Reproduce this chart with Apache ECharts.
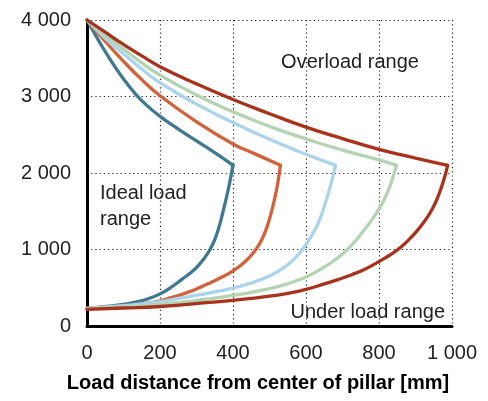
<!DOCTYPE html>
<html><head><meta charset="utf-8">
<script src="https://cdn.jsdelivr.net/npm/echarts@6/dist/echarts.min.js"></script>
<style>html,body{margin:0;padding:0;background:#fff}#c{width:488px;height:401px}</style>
</head><body><div id="c"></div>
<script>
// Tick labels
const xTickLabels = ['0', '200', '400', '600', '800', '1 000'];
const yTickLabels = ['0', '1 000', '2 000', '3 000', '4 000'];

// Curve names (by maximum load distance)
const curveNames = ['400 mm', '530 mm', '680 mm', '850 mm', '990 mm'];

// Upper branches (load vs distance)
const upper400 = [[0,4000],[20,3830],[40,3665],[60,3510],[80,3365],[100,3230],[128,3060],[160,2900],[200,2740],[250,2575],[300,2420],[350,2265],[400,2100]];
const upper530 = [[0,4000],[50,3720],[100,3460],[150,3220],[200,3010],[300,2670],[400,2380],[460,2250],[530,2100]];
const upper680 = [[0,4000],[50,3760],[100,3560],[150,3360],[200,3180],[300,2900],[400,2660],[500,2440],[600,2245],[681,2100]];
const upper850 = [[0,4000],[50,3800],[100,3620],[150,3440],[200,3280],[300,3020],[400,2800],[500,2610],[600,2445],[700,2300],[800,2172],[848,2100]];
const upper990 = [[0,4000],[50,3840],[100,3680],[150,3530],[200,3390],[300,3165],[400,2960],[500,2775],[600,2600],[700,2450],[800,2310],[900,2195],[988,2100]];

// Lower branches
const lower400 = [[400,2100],[392,1900],[383,1700],[373,1500],[362,1300],[350,1130],[337,1000],[322,890],[305,790],[285,700],[260,610],[230,505],[200,420],[170,360],[137,315],[100,283],[60,258],[0,228]];
const lower530 = [[530,2100],[522,1850],[513,1640],[503,1450],[492,1280],[479,1130],[464,1010],[447,910],[428,820],[400,720],[370,640],[340,570],[310,505],[270,430],[230,370],[200,330],[150,288],[100,262],[50,245],[0,232]];
const lower680 = [[681,2100],[672,1920],[662,1750],[651,1580],[640,1420],[628,1290],[614,1170],[598,1050],[580,940],[560,840],[535,750],[505,665],[470,595],[430,535],[400,495],[350,445],[310,410],[250,360],[200,318],[150,288],[91,262],[0,230]];
const lower850 = [[848,2100],[838,1940],[827,1790],[814,1650],[800,1530],[785,1420],[769,1315],[753,1215],[737,1120],[720,1030],[700,940],[678,860],[655,785],[630,715],[602,645],[570,585],[535,530],[500,488],[450,440],[400,400],[310,340],[200,283],[100,250],[0,228]];
const lower990 = [[988,2100],[980,1950],[970,1800],[959,1660],[946,1530],[932,1420],[917,1320],[900,1220],[882,1130],[862,1040],[840,960],[815,885],[790,815],[760,740],[725,670],[690,610],[650,550],[600,480],[550,428],[500,390],[450,360],[400,336],[310,298],[200,255],[100,235],[0,218]];

const uppers = [upper400, upper530, upper680, upper850, upper990];
const lowers = [lower400, lower530, lower680, lower850, lower990];
const colors = ['#3e7891', '#d2623a', '#a9d4ec', '#b3d3b1', '#a8321b'];

const series = [];
curveNames.forEach((name, i) => {
  [uppers[i], lowers[i]].forEach(d => {
    series.push({
      name: name, type: 'line', data: d, smooth: 0.5, symbol: 'none',
      z: 2 + i,
      lineStyle: { color: colors[i], width: 3.3, cap: 'round', join: 'round' },
      itemStyle: { color: colors[i] }
    });
  });
});

const font = 'Liberation Sans, Arial, Helvetica, sans-serif';
const chart = echarts.init(document.getElementById('c'), null, { renderer: 'canvas' });
chart.setOption({
  backgroundColor: '#fff',
  animation: false,
  grid: { left: 87, right: 36, top: 20, bottom: 75, containLabel: false },
  xAxis: {
    type: 'value', min: 0, max: 1000, interval: 200,
    axisLine: { show: true, onZero: true, lineStyle: { color: '#000', width: 3 } },
    axisTick: { show: false },
    axisLabel: {
      margin: 17, fontSize: 20, lineHeight: 20, color: '#222', fontFamily: font,
      formatter: v => xTickLabels[Math.round(v / 200)]
    },
    splitLine: { show: true, lineStyle: { color: '#222', width: 1.2, type: [1.2, 3] } }
  },
  yAxis: {
    type: 'value', min: 0, max: 4000, interval: 1000,
    axisLine: { show: true, lineStyle: { color: '#000', width: 3 } },
    axisTick: { show: false },
    axisLabel: {
      margin: 16, fontSize: 20, lineHeight: 20, color: '#222', fontFamily: font,
      formatter: v => yTickLabels[Math.round(v / 1000)]
    },
    splitLine: { show: true, lineStyle: { color: '#222', width: 1.2, type: [1.2, 3] } }
  },
  graphic: [
    { type: 'text', x: 350, y: 62, style: { text: 'Overload range', fontSize: 20, fontFamily: font, fill: '#222', align: 'center', verticalAlign: 'middle' }, z: 20 },
    { type: 'text', x: 100, y: 193, style: { text: 'Ideal load', fontSize: 20, fontFamily: font, fill: '#222', align: 'left', verticalAlign: 'middle' }, z: 20 },
    { type: 'text', x: 100, y: 219, style: { text: 'range', fontSize: 20, fontFamily: font, fill: '#222', align: 'left', verticalAlign: 'middle' }, z: 20 },
    { type: 'text', x: 445, y: 312, style: { text: 'Under load range', fontSize: 20, fontFamily: font, fill: '#222', align: 'right', verticalAlign: 'middle' }, z: 20 },
    { type: 'text', x: 258, y: 383, style: { text: 'Load distance from center of pillar [mm]', fontSize: 20, fontWeight: 'bold', fontFamily: font, fill: '#000', align: 'center', verticalAlign: 'middle' }, z: 20 }
  ],
  series: series
});
</script>
</body></html>
